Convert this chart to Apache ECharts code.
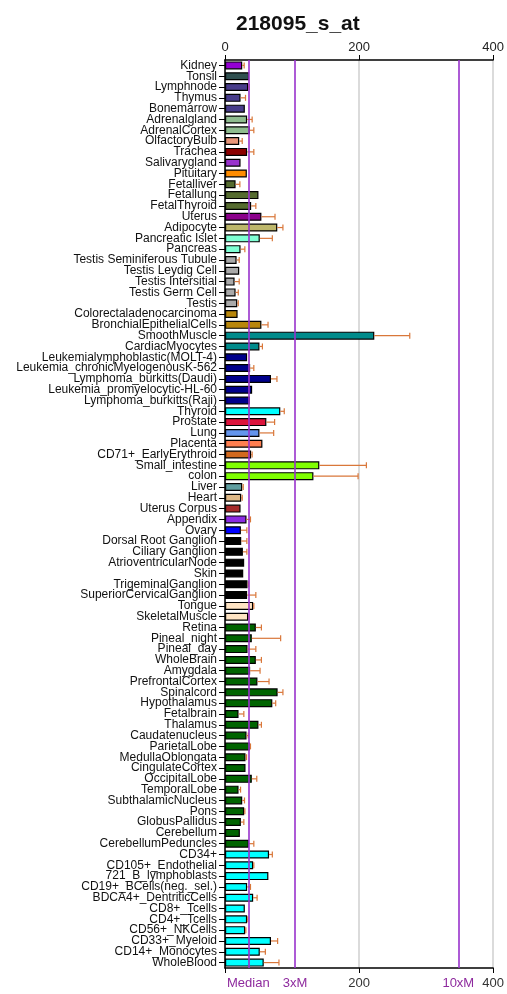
<!DOCTYPE html>
<html>
<head>
<meta charset="utf-8">
<script src="https://cdn.jsdelivr.net/npm/echarts@6/dist/echarts.min.js"></script>
<style>
  html, body { margin: 0; padding: 0; background: #fff; }
  #chart { width: 507px; height: 994px; }
</style>
</head>
<body>
<div id="chart"></div>
<script>
const tissues = [
  'Kidney', 'Tonsil', 'Lymphnode', 'Thymus', 'Bonemarrow', 'Adrenalgland', 'AdrenalCortex',
  'OlfactoryBulb', 'Trachea', 'Salivarygland', 'Pituitary', 'Fetalliver', 'Fetallung',
  'FetalThyroid', 'Uterus', 'Adipocyte', 'Pancreatic Islet', 'Pancreas',
  'Testis Seminiferous Tubule', 'Testis Leydig Cell', 'Testis Intersitial', 'Testis Germ Cell',
  'Testis', 'Colorectaladenocarcinoma', 'BronchialEpithelialCells', 'SmoothMuscle',
  'CardiacMyocytes', 'Leukemialymphoblastic(MOLT-4)', 'Leukemia_chronicMyelogenousK-562',
  'Lymphoma_burkitts(Daudi)', 'Leukemia_promyelocytic-HL-60', 'Lymphoma_burkitts(Raji)',
  'Thyroid', 'Prostate', 'Lung', 'Placenta', 'CD71+_EarlyErythroid', 'Small_intestine', 'colon',
  'Liver', 'Heart', 'Uterus Corpus', 'Appendix', 'Ovary', 'Dorsal Root Ganglion',
  'Ciliary Ganglion', 'AtrioventricularNode', 'Skin', 'TrigeminalGanglion',
  'SuperiorCervicalGanglion', 'Tongue', 'SkeletalMuscle', 'Retina', 'Pineal_night', 'Pineal_day',
  'WholeBrain', 'Amygdala', 'PrefrontalCortex', 'Spinalcord', 'Hypothalamus', 'Fetalbrain',
  'Thalamus', 'Caudatenucleus', 'ParietalLobe', 'MedullaOblongata', 'CingulateCortex',
  'OccipitalLobe', 'TemporalLobe', 'SubthalamicNucleus', 'Pons', 'GlobusPallidus', 'Cerebellum',
  'CerebellumPeduncles', 'CD34+', 'CD105+_Endothelial', '721_B_lymphoblasts',
  'CD19+_BCells(neg._sel.)', 'BDCA4+_DentriticCells', 'CD8+_Tcells', 'CD4+_Tcells',
  'CD56+_NKCells', 'CD33+_Myeloid', 'CD14+_Monocytes', 'WholeBlood'
]

const expression = [
  25.7, 36, 34.6, 23.2, 29.6, 33, 37, 21.2, 33, 23.2, 32.6, 15.8, 49.9, 39, 54.3, 78, 51.9, 23.2,
  17.3, 21.2, 14.3, 15.8, 18.3, 18.8, 54.3, 222.7, 51.4, 33, 37.5, 68.6, 40.5, 37,
  82.5, 61.7, 51.4, 55.8, 39, 140.7, 131.9, 25.7, 24.2, 23.2, 32.1, 23.7, 24.2,
  26.7, 28.6, 27.2, 33.6, 33, 42, 34.6, 46, 40, 33.6, 46, 37.5, 48.4, 78.5, 70.6, 20.2,
  49.9, 32.1, 37, 30.6, 30.6, 40, 20.2, 25.7, 28.6, 23.7, 22.2, 35.6, 65.7, 42, 64.7,
  33, 42, 29.6, 33, 30.1, 68.6, 51.9, 57.8
]

const errors = [
  2.9, 0.5, 1.5, 7.4, 0, 7.5, 6, 4.5, 10, 0, 0, 6.4, 0, 7, 20.3, 8.4, 18.7, 6.4,
  3.9, 0, 6.9, 4, 1.5, 0, 9.9, 52.9, 4.4, 0, 5.5, 8.9, 0, 0,
  5.9, 12.3, 21.2, 0, 1.5, 70.2, 66.6, 1.5, 1.5, 0, 5.9, 8.9, 8.4,
  5.9, 0, 0, 1.5, 13, 1, 1, 8.3, 43, 12.4, 8.3, 14.8, 17.3, 7.9, 5, 7.9,
  4.4, 2.5, 1, 1.5, 0, 7.4, 3, 3.4, 1, 4.4, 0, 7.4, 4.9, 1, 0,
  5, 5.9, 0, 1, 1, 9.9, 8.3, 22.7
]

const median = 34.8
const xTicks = [0, 200, 400]

// colour of each bar, same order as tissues
const barColors = [
  '#9400D3', '#2F4F4F', '#483D8B', '#483D8B', '#483D8B', '#8FBC8F', '#8FBC8F',
  '#E9967A', '#8B0000', '#9932CC', '#FF8C00', '#556B2F', '#556B2F',
  '#556B2F', '#8B008B', '#BDB76B', '#7FFFD4', '#7FFFD4',
  '#A9A9A9', '#A9A9A9', '#A9A9A9', '#A9A9A9',
  '#A9A9A9', '#B8860B', '#B8860B', '#008B8B',
  '#008B8B', '#00008B', '#00008B',
  '#00008B', '#00008B', '#00008B',
  '#00FFFF', '#DC143C', '#6495ED', '#FF7F50', '#D2691E', '#7FFF00', '#7FFF00',
  '#5F9EA0', '#DEB887', '#A52A2A', '#8A2BE2', '#0000FF', '#000000',
  '#000000', '#000000', '#000000', '#000000',
  '#000000', '#FFE4C4', '#FFE4C4', '#006400', '#006400', '#006400',
  '#006400', '#006400', '#006400', '#006400', '#006400', '#006400',
  '#006400', '#006400', '#006400', '#006400', '#006400',
  '#006400', '#006400', '#006400', '#006400', '#006400', '#006400',
  '#006400', '#00FFFF', '#00FFFF', '#00FFFF',
  '#00FFFF', '#00FFFF', '#00FFFF', '#00FFFF',
  '#00FFFF', '#00FFFF', '#00FFFF', '#00FFFF'
]

const purple = '#9932CC'
const bottomNames = {}
bottomNames[median] = 'Median'
bottomNames[median * 3] = '3xM'
bottomNames[median * 10] = '10xM'

const chart = echarts.init(document.getElementById('chart'))
chart.setOption({
  animation: false,
  backgroundColor: '#fff',
  textStyle: { fontFamily: 'Liberation Sans, Arial, sans-serif' },
  title: {
    text: '218095_s_at',
    left: 231,
    top: 9,
    textStyle: { fontSize: 21, fontWeight: 'bold', color: '#111' },
  },
  grid: { left: 225, right: 13, top: 60, bottom: 26, containLabel: false },
  xAxis: [
    {
      type: 'value',
      position: 'top',
      min: 0,
      max: 400,
      interval: 200,
      axisLine: { show: true, lineStyle: { color: '#000', width: 1.5 } },
      axisTick: { show: true, length: 5, lineStyle: { color: '#000' } },
      axisLabel: { fontSize: 13, color: '#222', margin: 6 },
      splitLine: { show: true, lineStyle: { color: '#cfcfcf', width: 1.5 } },
    },
    {
      type: 'value',
      position: 'bottom',
      min: 0,
      max: 400,
      axisLine: { show: true, lineStyle: { color: '#000', width: 1.5 } },
      axisTick: { show: true, length: 5, customValues: xTicks, lineStyle: { color: '#000' } },
      axisLabel: {
        fontSize: 13,
        margin: 9,
        customValues: [median, median * 3, 200, median * 10, 400],
        formatter: (v) => {
          const n = bottomNames[v]
          return n ? '{p|' + n + '}' : '{g|' + v + '}'
        },
        rich: {
          p: { color: '#8E2A9E', fontSize: 13 },
          g: { color: '#333', fontSize: 13 },
        },
      },
      splitLine: { show: false },
    },
  ],
  yAxis: {
    type: 'category',
    data: tissues,
    inverse: true,
    axisLine: { show: true, lineStyle: { color: '#000', width: 1.5 } },
    axisTick: { show: true, length: 6, alignWithLabel: true, lineStyle: { color: '#000' } },
    axisLabel: { fontSize: 12, color: '#111', margin: 8, interval: 0 },
  },
  series: [
    {
      type: 'bar',
      xAxisIndex: 0,
      barCategoryGap: '26%',
      data: expression.map((v, i) => ({
        value: v,
        itemStyle: { color: barColors[i], borderColor: '#000', borderWidth: 1.2 },
      })),
      markLine: {
        silent: true,
        symbol: 'none',
        label: { show: false },
        lineStyle: { color: purple, width: 1.6, type: 'solid' },
        data: [{ xAxis: median }, { xAxis: median * 3 }, { xAxis: median * 10 }],
      },
    },
    {
      type: 'custom',
      xAxisIndex: 0,
      data: expression.map((v, i) => [v, v + errors[i], i]),
      encode: { x: [0, 1], y: 2 },
      z: 3,
      renderItem: (params, api) => {
        const lo = api.coord([api.value(0), api.value(2)])
        const hi = api.coord([api.value(1), api.value(2)])
        if (hi[0] - lo[0] < 0.5) return null
        const cap = 3
        return {
          type: 'group',
          children: [
            { type: 'line', shape: { x1: lo[0], y1: lo[1], x2: hi[0], y2: hi[1] }, style: { stroke: '#D9773A', lineWidth: 1.2 } },
            { type: 'line', shape: { x1: hi[0], y1: hi[1] - cap, x2: hi[0], y2: hi[1] + cap }, style: { stroke: '#D9773A', lineWidth: 1.2 } },
          ],
        }
      },
    },
  ],
})
</script>
</body>
</html>
